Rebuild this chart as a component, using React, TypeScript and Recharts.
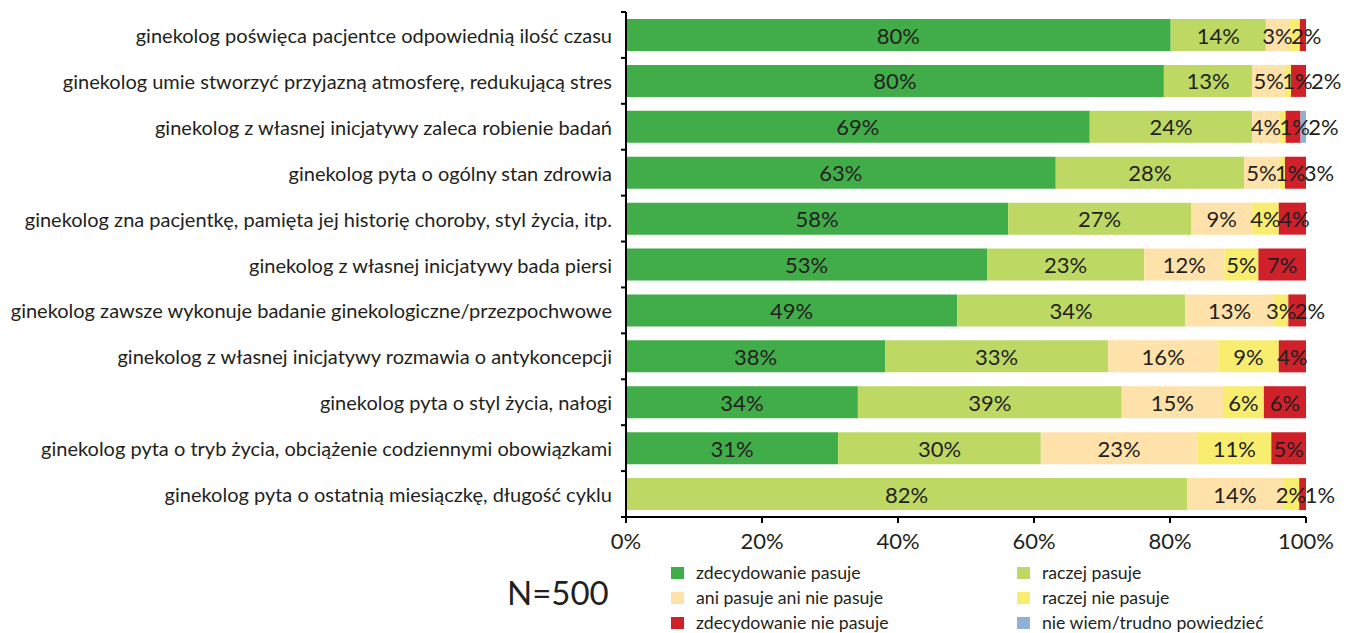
import React from 'react'
import { BarChart, Bar, XAxis, YAxis, LabelList } from 'recharts'

const categories = [
  'ginekolog poświęca pacjentce odpowiednią ilość czasu',
  'ginekolog umie stworzyć przyjazną atmosferę, redukującą stres',
  'ginekolog z własnej inicjatywy zaleca robienie badań',
  'ginekolog pyta o ogólny stan zdrowia',
  'ginekolog zna pacjentkę, pamięta jej historię choroby, styl życia, itp.',
  'ginekolog z własnej inicjatywy bada piersi',
  'ginekolog zawsze wykonuje badanie ginekologiczne/przezpochwowe',
  'ginekolog z własnej inicjatywy rozmawia o antykoncepcji',
  'ginekolog pyta o styl życia, nałogi',
  'ginekolog pyta o tryb życia,  obciążenie codziennymi obowiązkami',
  'ginekolog pyta o ostatnią miesiączkę, długość cyklu',
]

// segment widths (percent)
const zdecydowanie = [80.1, 79.1, 68.2, 63.2, 56.2, 53.1, 48.7, 38.1, 34.1, 31.2, 0]
const raczej = [14.0, 13.0, 23.9, 27.7, 26.9, 23.1, 33.5, 32.8, 38.8, 29.8, 82.5]
const ani = [3.4, 4.8, 4.0, 5.1, 9.0, 11.8, 13.1, 16.2, 14.9, 23.0, 14.1]
const raczejNie = [1.6, 0.9, 0.9, 0.9, 3.9, 5.0, 2.1, 8.9, 6.0, 10.9, 2.4]
const zdecydowanieNie = [0.9, 2.2, 2.2, 3.1, 4.0, 7.0, 2.6, 4.0, 6.2, 5.1, 1.0]
const nieWiem = [0, 0, 0.8, 0, 0, 0, 0, 0, 0, 0, 0]

// labels as printed on the chart ('' = no label)
const zdecydowanieLbl = ['80%', '80%', '69%', '63%', '58%', '53%', '49%', '38%', '34%', '31%', '']
const raczejLbl = ['14%', '13%', '24%', '28%', '27%', '23%', '34%', '33%', '39%', '30%', '82%']
const aniLbl = ['3%', '5%', '4%', '5%', '9%', '12%', '13%', '16%', '15%', '23%', '14%']
const raczejNieLbl = ['2%', '1%', '1%', '1%', '4%', '5%', '3%', '9%', '6%', '11%', '2%']
const zdecydowanieNieLbl = ['', '2%', '2%', '3%', '4%', '7%', '2%', '4%', '6%', '5%', '1%']
const nieWiemLbl = ['', '', '', '', '', '', '', '', '', '', '']

const xTicks = [0, 20, 40, 60, 80, 100]

const SERIES = [
  { key: 's0', name: 'zdecydowanie pasuje', color: '#41ad49', values: zdecydowanie, labels: zdecydowanieLbl },
  { key: 's1', name: 'raczej pasuje', color: '#bdd964', values: raczej, labels: raczejLbl },
  { key: 's2', name: 'ani pasuje ani nie pasuje', color: '#ffe1aa', values: ani, labels: aniLbl },
  { key: 's3', name: 'raczej nie pasuje', color: '#f8ed6e', values: raczejNie, labels: raczejNieLbl },
  { key: 's4', name: 'zdecydowanie nie pasuje', color: '#d0202a', values: zdecydowanieNie, labels: zdecydowanieNieLbl },
  { key: 's5', name: 'nie wiem/trudno powiedzieć', color: '#8fb1d8', values: nieWiem, labels: nieWiemLbl },
]

const data = categories.map((name, i) => {
  const row: any = { name }
  SERIES.forEach(s => { row[s.key] = s.values[i] })
  return row
})

const FONT = 'Lato, "Noto Sans", sans-serif'
const INK = '#231f20'
const W = 1358
const H = 633
const YAXIS_W = 626
const M = { top: 12, right: 52, left: 0, bottom: 86 }
const XAXIS_H = 30
const PLOT_H = H - M.top - M.bottom - XAXIS_H
const LABEL_SIZE = 22

const textW = (s: string) => (s.length - 1) * 12.8 + 17

// centre of every label in a row, pushed right so neighbours don't overlap
function layoutRow(row: number, x0: number, scale: number) {
  const centers: number[] = []
  let cum = 0
  let prevRight = -Infinity
  SERIES.forEach((s, j) => {
    const v = s.values[row]
    const lbl = s.labels[row]
    if (lbl) {
      const w = textW(lbl)
      const c = x0 + (cum + v / 2) * scale
      const left = Math.max(c - w / 2, prevRight - 1)
      centers[j] = left + w / 2
      prevRight = left + w
    }
    cum += v
  })
  return centers
}

const segLabel = (k: number) => (props: any) => {
  const vb = props.viewBox || {}
  const x = props.x ?? vb.x
  const y = props.y ?? vb.y
  const width = props.width ?? vb.width
  const height = props.height ?? vb.height
  let row = props.index
  if (row == null) row = Math.floor((y + height / 2 - M.top) / (PLOT_H / categories.length))
  const v = SERIES[k].values[row]
  const lbl = SERIES[k].labels[row]
  if (!lbl || !v) return null
  const scale = width / v
  let before = 0
  for (let j = 0; j < k; j++) before += SERIES[j].values[row]
  const x0 = x - before * scale
  const centers = layoutRow(row, x0, scale)
  return (
    <text x={centers[k]} y={y + height / 2} textAnchor="middle" dominantBaseline="central"
      fontSize={LABEL_SIZE} fontFamily={FONT} fill={INK}>
      {lbl}
    </text>
  )
}

const CategoryTick = (props: any) => {
  const { y, payload, index } = props
  const band = PLOT_H / categories.length
  const last = index === categories.length - 1
  return (
    <g>
      <text x={YAXIS_W - 14} y={y} textAnchor="end" dominantBaseline="central"
        fontSize={20} fontFamily={FONT} fill={INK}>
        {payload.value}
      </text>
      <line x1={YAXIS_W - 5} x2={YAXIS_W} y1={y - band / 2} y2={y - band / 2} stroke="#000" strokeWidth={2} />
      {last && <line x1={YAXIS_W - 5} x2={YAXIS_W} y1={y + band / 2} y2={y + band / 2} stroke="#000" strokeWidth={2} />}
    </g>
  )
}

function LegendGrid() {
  return (
    <div style={{ position: 'absolute', left: 671, top: 560, width: 660, display: 'grid',
      gridTemplateColumns: '346px 300px', fontFamily: FONT, fontSize: 17.7, color: INK }}>
      {SERIES.map(s => (
        <div key={s.key} style={{ display: 'flex', alignItems: 'center', height: 25, whiteSpace: 'nowrap' }}>
          <span style={{ width: 13, height: 12, background: s.color, marginRight: 12, flex: 'none' }} />
          <span>{s.name}</span>
        </div>
      ))}
    </div>
  )
}

export default function App() {
  return (
    <div style={{ position: 'absolute', left: 0, top: 0, width: W, height: H, background: '#fff' }}>
      <BarChart width={W} height={H} data={data} layout="vertical" margin={M}>
        <XAxis type="number" domain={[0, 100]} allowDataOverflow ticks={xTicks}
          tickFormatter={(v: number) => `${v}%`} height={XAXIS_H}
          axisLine={{ stroke: '#000', strokeWidth: 2 }} tickLine={{ stroke: '#000', strokeWidth: 2 }}
          tickSize={6} tickMargin={10}
          tick={{ fontSize: LABEL_SIZE, fontFamily: FONT, fill: INK }} />
        <YAxis type="category" dataKey="name" width={YAXIS_W} interval={0}
          axisLine={{ stroke: '#000', strokeWidth: 2 }} tickLine={false} tick={<CategoryTick />} />
        {SERIES.map((s, k) => (
          <Bar key={s.key} dataKey={s.key} name={s.name} stackId="a" fill={s.color}
            barSize={32} isAnimationActive={false}>
            <LabelList dataKey={s.key} content={segLabel(k)} />
          </Bar>
        ))}
      </BarChart>
      <LegendGrid />
      <div style={{ position: 'absolute', left: 507, top: 572, fontFamily: FONT, fontSize: 33,
        color: INK, lineHeight: '40px' }}>
        N=500
      </div>
    </div>
  )
}
